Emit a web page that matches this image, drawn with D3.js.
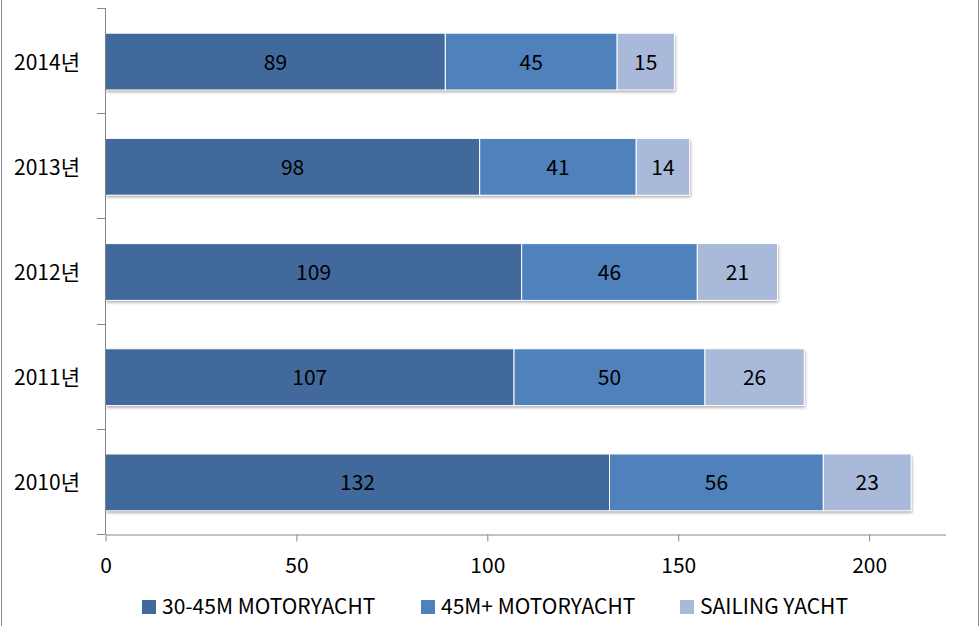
<!DOCTYPE html>
<html>
<head>
<meta charset="utf-8">
<script src="https://cdn.jsdelivr.net/npm/d3@7"></script>
<style>
  body { margin: 0; background: #fff; }
  svg { display: block; font-family: "Noto Sans CJK KR", "Open Sans", sans-serif; }
</style>
</head>
<body>
<div id="container"></div>
<script>
"use strict";

const years = ["2014년", "2013년", "2012년", "2011년", "2010년"];
const seriesNames = ["30-45M MOTORYACHT", "45M+ MOTORYACHT", "SAILING YACHT"];
const motor3045 = [89, 98, 109, 107, 132];
const motor45 = [45, 41, 46, 50, 56];
const sailing = [15, 14, 21, 26, 23];
const xTicks = [0, 50, 100, 150, 200];
const colors = ["#41699b", "#4f81bd", "#a9b9d9"];

const width = 980;
const height = 626;
const fontSize = 21;

const svg = d3.select("#container")
  .append("svg")
  .attr("width", width)
  .attr("height", height);

// shadow for the bars
const defs = svg.append("defs");
const filter = defs.append("filter").attr("id", "shadow")
  .attr("x", "-5%").attr("y", "-10%").attr("width", "110%").attr("height", "130%");
filter.append("feDropShadow")
  .attr("dx", 1).attr("dy", 2).attr("stdDeviation", 1.5)
  .attr("flood-color", "#000").attr("flood-opacity", 0.35);

// frame lines at left and right edge
svg.append("line").attr("x1", 1.5).attr("x2", 1.5).attr("y1", 0).attr("y2", height)
  .attr("stroke", "#8c8c8c");
svg.append("line").attr("x1", 978.5).attr("x2", 978.5).attr("y1", 0).attr("y2", height)
  .attr("stroke", "#8c8c8c");

const x = d3.scaleLinear().domain([0, 220]).range([105.5, 945.5]);
const y = d3.scaleBand().domain(years).range([8, 534]);
const barH = y.bandwidth() * 0.54;

const rows = years.map((yr, i) => ({ year: yr, vals: [motor3045[i], motor45[i], sailing[i]] }));

const stack = d3.stack().keys([0, 1, 2]).value((d, k) => d.vals[k]);
const layers = stack(rows);

const bars = svg.append("g");

// shadows behind whole bar
bars.selectAll("rect.sh").data(rows)
  .enter().append("rect")
  .attr("x", x(0))
  .attr("y", (d) => y(d.year) + (y.bandwidth() - barH) / 2 + 1)
  .attr("width", (d) => x(d3.sum(d.vals)) - x(0))
  .attr("height", barH)
  .attr("fill", "#fff")
  .attr("filter", "url(#shadow)");

layers.forEach((layer, k) => {
  bars.selectAll("rect.s" + k).data(layer)
    .enter().append("rect")
    .attr("x", (d) => x(d[0]))
    .attr("y", (d) => y(d.data.year) + (y.bandwidth() - barH) / 2 + 1)
    .attr("width", (d) => x(d[1]) - x(d[0]))
    .attr("height", barH)
    .attr("fill", colors[k])
    .attr("stroke", "#fff")
    .attr("stroke-width", 1);

  bars.selectAll("text.l" + k).data(layer)
    .enter().append("text")
    .attr("x", (d) => (x(d[0]) + x(d[1])) / 2)
    .attr("y", (d) => y(d.data.year) + y.bandwidth() / 2 + 9)
    .attr("text-anchor", "middle")
    .attr("font-size", fontSize)
    .attr("fill", "#000")
    .text((d) => d[1] - d[0]);
});

// y axis
const yAxis = svg.append("g");
yAxis.append("line").attr("x1", 105.5).attr("x2", 105.5).attr("y1", 8).attr("y2", 534)
  .attr("stroke", "#868686");
const yTickPos = years.map((d) => y(d)).concat([534]);
yAxis.selectAll("line.t").data(yTickPos)
  .enter().append("line")
  .attr("x1", 97).attr("x2", 105.5)
  .attr("y1", (d) => Math.round(d) + 0.5).attr("y2", (d) => Math.round(d) + 0.5)
  .attr("stroke", "#868686");
yAxis.selectAll("text").data(years)
  .enter().append("text")
  .attr("x", 80)
  .attr("y", (d) => y(d) + y.bandwidth() / 2 + 9)
  .attr("text-anchor", "end")
  .attr("font-size", fontSize)
  .text((d) => d);

// x axis
const xAxis = svg.append("g").attr("transform", "translate(0,534.5)")
  .call(d3.axisBottom(x).tickValues(xTicks).tickSize(7).tickSizeOuter(0));
xAxis.select(".domain").attr("stroke", "#868686");
xAxis.selectAll(".tick line").attr("stroke", "#868686");
xAxis.selectAll(".tick text")
  .attr("font-size", fontSize)
  .attr("font-family", "\"Noto Sans CJK KR\", \"Open Sans\", sans-serif")
  .attr("fill", "#000")
  .attr("dy", null)
  .attr("y", 38);

// legend
const legendX = [142, 421, 680];
const legend = svg.append("g");
seriesNames.forEach((name, k) => {
  const g = legend.append("g").attr("transform", `translate(${legendX[k]},600)`);
  g.append("rect").attr("width", 14).attr("height", 14).attr("fill", colors[k]);
  g.append("text").attr("x", 20).attr("y", 13.5).attr("font-size", fontSize).text(name);
});
</script>
</body>
</html>
